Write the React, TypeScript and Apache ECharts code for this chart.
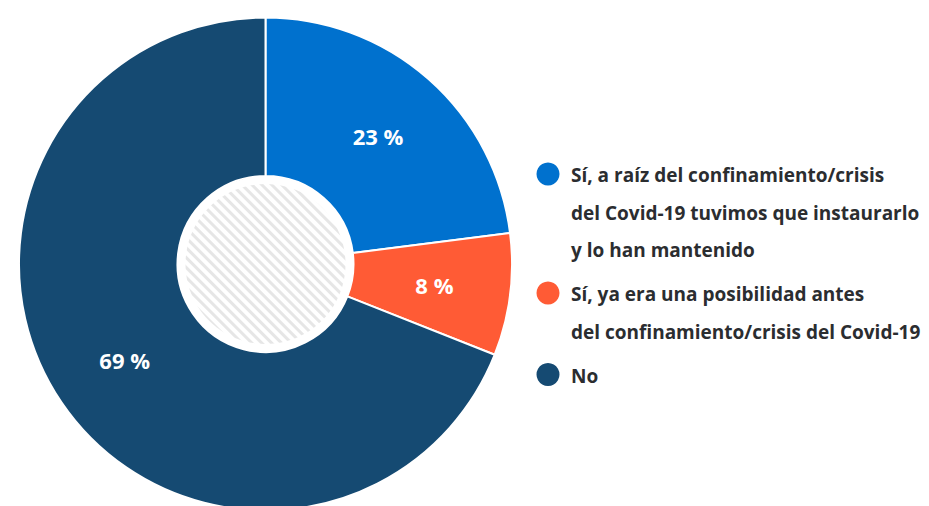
import React, { useEffect, useRef } from "react";
import * as echarts from "echarts";

const categories = [
  "Sí, a raíz del confinamiento/crisis\ndel Covid-19 tuvimos que instaurarlo\ny lo han mantenido",
  "Sí, ya era una posibilidad antes\ndel confinamiento/crisis del Covid-19",
  "No",
];
const values = [23, 8, 69];
const colors = ["#0071ce", "#ff5b35", "#154a72"];

export default function App() {
  const ref = useRef<HTMLDivElement>(null);
  useEffect(() => {
    const chart = echarts.init(ref.current!, null, { renderer: "svg" });
    const cx = 265.5;
    const cy = 264;
    const legendX = 548;
    const lineH = 37.5;
    const itemGap = 6.5;
    const graphics: any[] = [];
    let y = 175;
    categories.forEach((name, i) => {
      const lines = name.split("\n").length;
      graphics.push({
        type: "circle",
        shape: { cx: legendX, cy: y - 1, r: 11.5 },
        style: { fill: colors[i] },
        silent: true,
      });
      graphics.push({
        type: "text",
        x: 571,
        y: y - lineH / 2,
        style: {
          text: name,
          font: "700 19px 'Open Sans'",
          fill: "#2b2d30",
          lineHeight: lineH,
          verticalAlign: "top",
          align: "left",
        },
        silent: true,
      });
      y += lines * lineH + itemGap;
    });
    chart.setOption({
      animation: false,
      backgroundColor: "#ffffff",
      graphic: graphics,
      series: [
        {
          type: "pie",
          center: [cx, cy],
          radius: [88, 246.5],
          startAngle: 90,
          clockwise: true,
          silent: true,
          itemStyle: { borderColor: "#ffffff", borderWidth: 2 },
          label: {
            show: true,
            position: "inside",
            formatter: (p: any) => `${p.value} %`,
            color: "#ffffff",
            fontFamily: "Open Sans",
            fontWeight: 700,
            fontSize: 22,
          },
          labelLine: { show: false },
          data: values.map((v, i) => ({
            value: v,
            name: categories[i],
            itemStyle: { color: colors[i] },
          })),
        },
        {
          type: "pie",
          center: [cx, cy],
          radius: [0, 80],
          silent: true,
          label: { show: false },
          labelLine: { show: false },
          data: [
            {
              value: 1,
              name: "centro",
              itemStyle: {
                color: "#ffffff",
                decal: {
                  symbol: "rect",
                  symbolSize: 1,
                  color: "#e6e6e6",
                  dashArrayX: [1, 0],
                  dashArrayY: [3, 4],
                  rotation: Math.PI / 4,
                },
              },
            },
          ],
        },
      ],
    });
    return () => chart.dispose();
  }, []);
  return (
    <div
      ref={ref}
      style={{ position: "fixed", left: 0, top: 0, width: 929, height: 506 }}
    />
  );
}
